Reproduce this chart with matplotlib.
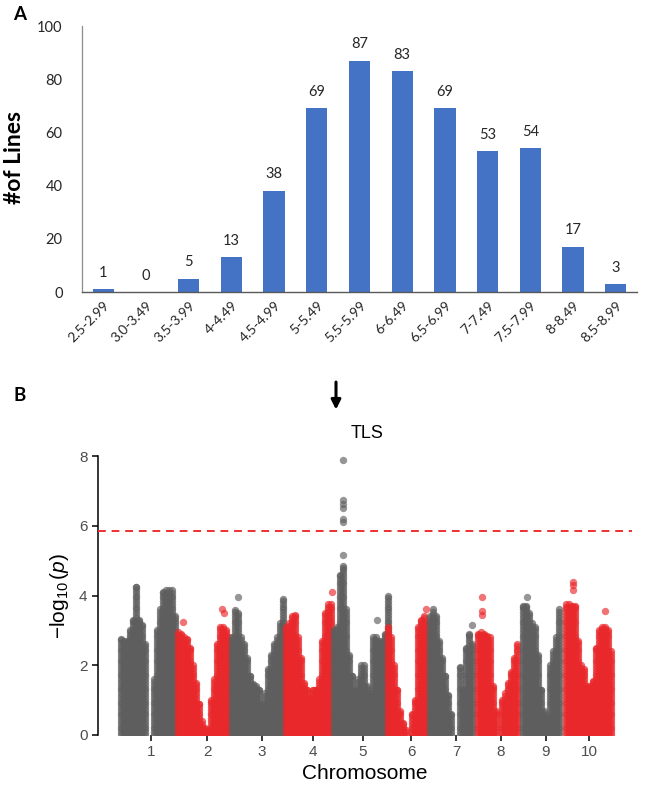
import numpy as np
import matplotlib
matplotlib.use("Agg")
import matplotlib.pyplot as plt

nan = np.nan

# ---------------- Panel A data ----------------
bins = ["2.5-2.99", "3.0-3.49", "3.5-3.99", "4-4.49", "4.5-4.99", "5-5.49",
        "5.5-5.99", "6-6.49", "6.5-6.99", "7-7.49", "7.5-7.99", "8-8.49", "8.5-8.99"]
n_lines = [1, 0, 5, 13, 38, 69, 87, 83, 69, 53, 54, 17, 3]

# ---------------- Panel B data ----------------
# upper envelope of -log10(p) per chromosome, sampled every `step` (position units)
step = 3
chrom_start = [3, 60, 114, 168, 216, 270, 312, 360, 405, 448]
env = [
    [2.75, 2.7, 2.7, 3.0, 3.3, 4.25, 3.3, 3.15, 2.6, nan, nan, 1.6, 3.0, 3.6, 4.1, 4.15, 4.15, 4.15, 3.4],
    [2.95, 2.9, 2.8, 2.75, 2.5, 2.0, 1.5, 0.9, 0.4, 0.2, 0.15, 1.0, 1.6, 2.6, 3.1, 3.1, 3.0, 2.8],
    [2.8, 3.58, 3.5, 2.8, 2.6, 2.2, 1.7, 1.45, 1.4, 1.3, 0.85, 1.2, 1.9, 2.3, 2.6, 2.8, 3.2, 3.9],
    [3.1, 3.2, 3.4, 3.4, 2.8, 2.2, 1.5, 1.3, 1.1, 1.3, 1.3, 1.6, 2.7, 3.5, 3.75, 3.75],
    [3.0, 3.1, 4.6, 4.85, 3.6, 2.3, 1.7, 1.25, 1.6, 2.0, 2.0, 1.4, 1.2, 2.8, 2.8, 2.7, 2.7, 2.9, 4.0],
    [3.1, 2.8, 2.0, 1.3, 0.7, 0.35, 0.15, nan, 0.6, 1.0, 3.1, 3.3, 3.4, 3.2],
    [3.4, 3.6, 3.4, 2.7, 2.2, 1.7, 1.15, 0.6, nan, nan, 1.95, 1.3, 2.5, 2.9, 2.6],
    [2.9, 2.95, 2.9, 2.85, 2.8, 1.4, 0.7, nan, 1.0, 1.2, 1.5, 1.8, 2.2, 2.6],
    [3.7, 3.7, 3.5, 3.2, 3.1, 2.3, 1.3, 0.7, 0.5, 2.0, 2.4, 2.8, 3.6],
    [3.75, 3.75, 3.7, 3.7, 2.7, 2.0, 1.9, 1.4, 1.4, 1.55, 2.5, 3.0, 3.1, 3.1, 3.0, 2.4],
]
# isolated SNPs standing out from the clouds: (chromosome, position, -log10 p)
out_chr = [2, 2, 2, 3, 4, 4, 5, 5, 5, 5, 5, 5, 5, 5, 6, 7, 8, 8, 8, 9, 10, 10, 10, 10]
out_pos = [65, 104, 106, 119.5, 177, 213.5, 224.7, 224.7, 224.7, 224.7, 224.7, 224.7, 224.7,
           258.7, 308, 353.7, 363.7, 363.7, 363.7, 408.7, 455.3, 455.3, 455.3, 487.3]
out_val = [3.25, 3.6, 3.5, 3.95, 3.45, 4.1, 7.88, 6.73, 6.62, 6.5, 6.2, 6.12, 5.15,
           3.3, 3.6, 3.15, 3.95, 3.55, 3.45, 3.95, 4.4, 4.3, 4.15, 3.55]
chrom_ticks = [33, 89, 144, 195, 245, 293, 338, 383, 428, 471]
chrom_labels = [str(i) for i in range(1, 11)]
threshold = 5.85

gray = "#5e5e5e"
red = "#E9282B"
chrom_col = [gray, red] * 5

fig = plt.figure(figsize=(6.46, 7.97), dpi=100)

# ---------------- Panel A ----------------
axA = fig.add_axes([82 / 646, 1 - 292 / 797, 555 / 646, 266 / 797])
xa = np.arange(len(bins))
axA.bar(xa, n_lines, width=0.5, color="#4472C4")
for xi, v in zip(xa, n_lines):
    axA.annotate(str(v), (xi, v), xytext=(0, 9), textcoords="offset points",
                 ha="center", va="baseline", fontsize=10.5, family="Lato", color="#262626")
axA.set_xlim(-0.5, len(bins) - 0.5)
axA.set_ylim(0, 100)
axA.set_yticks(range(0, 101, 20))
axA.set_xticks(xa)
axA.set_xticklabels(bins, rotation=45, ha="right", rotation_mode="anchor",
                    fontsize=10, family="Lato", color="#262626")
for lab in axA.get_yticklabels():
    lab.set_family("Lato")
axA.tick_params(axis="y", length=0, pad=14, labelsize=10.5, labelcolor="#262626")
axA.tick_params(axis="x", length=0, pad=5)
for s in ["top", "right"]:
    axA.spines[s].set_visible(False)
axA.spines["left"].set_color("#8c8c8c")
axA.spines["bottom"].set_color("#595959")
axA.spines["left"].set_linewidth(0.9)
axA.spines["bottom"].set_linewidth(1.0)
fig.text(15 / 646, 1 - 158 / 797, "#of Lines", rotation=90, ha="center", va="center",
         fontsize=16.5, fontweight="bold", family="Lato")
fig.text(20 / 646, 1 - 14 / 797, "A", ha="center", va="center",
         fontsize=13.5, fontweight="bold", family="Lato")

# ---------------- Panel B ----------------
plt.rcParams["mathtext.fontset"] = "custom"
plt.rcParams["mathtext.rm"] = "Liberation Sans"
plt.rcParams["mathtext.it"] = "Liberation Sans:italic"

axB = fig.add_axes([98 / 646, 1 - 735 / 797, 534 / 646, 279 / 797])
dy = 0.08
for c in range(10):
    xs, ys = [], []
    for k, h in enumerate(env[c]):
        if np.isnan(h):
            continue
        yy = np.append(np.arange(0, h, dy), h)
        xs.extend([chrom_start[c] + k * step] * len(yy))
        ys.extend(yy)
    axB.scatter(xs, ys, s=28, color=chrom_col[c], alpha=0.7, linewidths=0, zorder=2)

out_chr = np.array(out_chr)
for c in range(10):
    m = out_chr == c + 1
    if m.any():
        axB.scatter(np.array(out_pos)[m], np.array(out_val)[m], s=28,
                    color=chrom_col[c], alpha=0.65, linewidths=0, zorder=3)

axB.axhline(threshold, color="#EE3030", lw=1.4, linestyle=(0, (4, 3)), zorder=4)

axB.set_xlim(-20, 514)
axB.set_ylim(0, 8)
axB.set_yticks([0, 2, 4, 6, 8])
axB.set_xticks(chrom_ticks)
axB.set_xticklabels(chrom_labels)
for lab in axB.get_xticklabels() + axB.get_yticklabels():
    lab.set_family("Liberation Sans")
axB.tick_params(axis="both", labelsize=11, labelcolor="#4D4D4D", color="black",
                width=1.1, length=4)
axB.tick_params(axis="x", pad=3)
for s in ["top", "right", "bottom"]:
    axB.spines[s].set_visible(False)
axB.spines["left"].set_linewidth(1.1)
axB.spines["left"].set_color("black")

axB.set_xlabel("Chromosome", fontsize=15, family="Liberation Sans", labelpad=4)
axB.set_ylabel(r"$-\log_{10}(p)$", fontsize=15, labelpad=6)

axB.text(249, 8.65, "TLS", ha="center", va="center", fontsize=13,
         family="Liberation Sans", clip_on=False)
axB.annotate("", xy=(218, 9.25), xytext=(218, 10.2), annotation_clip=False,
             arrowprops=dict(arrowstyle="-|>", lw=2.2, color="black", mutation_scale=14))
fig.text(20 / 646, 1 - 395 / 797, "B", ha="center", va="center",
         fontsize=13.5, fontweight="bold", family="Lato")

fig.savefig("out.png", dpi=100)
